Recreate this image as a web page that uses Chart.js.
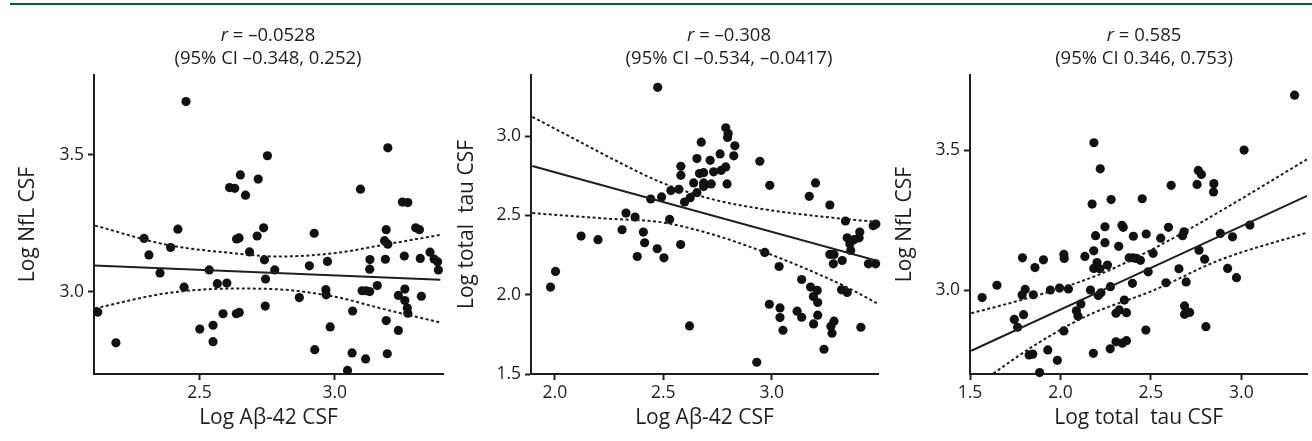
<!DOCTYPE html>
<html>
<head>
<meta charset="utf-8">
<script src="https://cdn.jsdelivr.net/npm/chart.js@4/dist/chart.umd.min.js"></script>
<style>
  html, body { margin: 0; padding: 0; background: #fff; }
  body { width: 1312px; height: 441px; position: relative; overflow: hidden; }
  .rule { position: absolute; left: 10px; right: 0; top: 3px; height: 2px; background: #005f40; }
  .panel { position: absolute; top: 0; height: 441px; }
</style>
</head>
<body>
<div class="rule"></div>
<div class="panel" style="left:0px;width:450px"><canvas id="c1"></canvas></div>
<div class="panel" style="left:439px;width:445px"><canvas id="c2"></canvas></div>
<div class="panel" style="left:877px;width:435px"><canvas id="c3"></canvas></div>
<script>
// Titles (r and 95% CI) for the three panels
const rValues = ['–0.0528', '–0.308', '0.585'];
const ciLabels = ['(95% CI –0.348, 0.252)', '(95% CI –0.534, –0.0417)', '(95% CI 0.346, 0.753)'];

// Axis titles
const xTitles = ['Log Aβ-42 CSF', 'Log Aβ-42 CSF', 'Log total  tau CSF'];
const yTitles = ['Log NfL CSF', 'Log total  tau CSF', 'Log NfL CSF'];

// Tick values
const xTicks = [[2.5, 3.0], [2.0, 2.5, 3.0], [1.5, 2.0, 2.5, 3.0]];
const yTicks = [[3.0, 3.5], [1.5, 2.0, 2.5, 3.0], [3.0, 3.5]];

// Panel 1: Log NfL CSF vs Log Abeta-42 CSF
const nflVsAbeta = [
  [2.124, 2.926], [2.191, 2.814], [2.450, 3.695], [2.295, 3.195], [2.313, 3.135],
  [2.354, 3.069], [2.393, 3.162], [2.420, 3.229], [2.443, 3.017], [2.501, 2.864],
  [2.536, 3.080], [2.550, 2.878], [2.550, 2.818], [2.566, 3.030], [2.601, 3.032],
  [2.587, 2.920], [2.611, 3.381], [2.630, 3.378], [2.651, 3.427], [2.670, 3.353],
  [2.637, 3.193], [2.646, 3.197], [2.636, 2.920], [2.647, 2.925], [2.685, 3.146],
  [2.717, 3.412], [2.713, 3.204], [2.751, 3.497], [2.737, 3.234], [2.740, 3.117],
  [2.744, 3.047], [2.743, 2.948], [2.778, 3.080], [2.869, 2.979], [2.906, 3.095],
  [2.924, 3.214], [2.926, 2.789], [2.967, 3.008], [2.968, 2.989], [2.973, 3.111],
  [2.983, 2.872], [3.047, 2.713], [3.066, 2.930], [3.064, 2.777], [3.095, 3.375],
  [3.114, 2.755], [3.101, 3.004], [3.116, 3.004], [3.129, 3.001], [3.130, 3.118],
  [3.129, 3.083], [3.157, 3.023], [3.196, 3.526], [3.190, 3.227], [3.184, 3.187],
  [3.196, 3.174], [3.187, 3.119], [3.190, 2.895], [3.194, 2.774], [3.235, 2.987],
  [3.235, 2.859], [3.250, 3.328], [3.270, 3.326], [3.259, 3.010], [3.257, 3.131],
  [3.259, 2.968], [3.268, 2.941], [3.270, 2.922], [3.299, 3.234], [3.313, 3.227],
  [3.316, 3.122], [3.320, 2.984], [3.352, 3.145], [3.367, 3.120], [3.380, 3.110],
  [3.383, 3.080]
];
const nflVsAbetaFit = [[2.11, 3.096], [3.39, 3.044]];
const nflVsAbetaUpper = [[2.114, 3.242], [2.379, 3.172], [2.626, 3.141], [2.787, 3.129], [2.996, 3.141], [3.181, 3.172], [3.391, 3.208]];
const nflVsAbetaLower = [[2.114, 2.940], [2.379, 2.995], [2.626, 3.012], [2.750, 3.011], [2.996, 2.983], [3.181, 2.937], [3.391, 2.888]];

// Panel 2: Log total tau CSF vs Log Abeta-42 CSF
const tauVsAbeta = [
  [1.980, 2.048], [2.003, 2.147], [2.121, 2.370], [2.199, 2.347], [2.474, 3.308],
  [2.310, 2.410], [2.328, 2.515], [2.370, 2.490], [2.380, 2.241], [2.408, 2.395],
  [2.414, 2.328], [2.442, 2.604], [2.472, 2.290], [2.492, 2.617], [2.503, 2.233],
  [2.529, 2.475], [2.535, 2.657], [2.572, 2.665], [2.581, 2.810], [2.581, 2.753],
  [2.580, 2.317], [2.598, 2.585], [2.621, 1.803], [2.624, 2.612], [2.640, 2.705],
  [2.655, 2.644], [2.655, 2.859], [2.675, 2.962], [2.667, 2.764], [2.686, 2.770],
  [2.686, 2.705], [2.686, 2.682], [2.716, 2.848], [2.721, 2.699], [2.732, 2.775],
  [2.762, 2.888], [2.767, 2.785], [2.788, 2.806], [2.788, 3.053], [2.799, 3.017],
  [2.796, 2.992], [2.794, 2.699], [2.830, 2.939], [2.825, 2.876], [2.945, 2.842],
  [2.991, 2.690], [2.968, 2.267], [2.989, 1.940], [3.034, 2.178], [3.038, 1.917],
  [3.038, 1.856], [3.052, 1.776], [2.931, 1.574], [3.117, 1.896], [3.138, 2.096],
  [3.138, 1.858], [3.173, 2.621], [3.179, 2.048], [3.192, 1.989], [3.193, 1.816],
  [3.202, 2.705], [3.210, 2.027], [3.212, 1.951], [3.212, 1.871], [3.241, 1.656],
  [3.268, 2.566], [3.268, 2.254], [3.287, 2.254], [3.284, 2.195], [3.273, 1.801],
  [3.287, 1.833], [3.278, 1.757], [3.325, 2.216], [3.322, 2.031], [3.348, 2.014],
  [3.340, 2.465], [3.348, 2.359], [3.360, 2.322], [3.364, 2.279], [3.379, 2.347],
  [3.403, 2.359], [3.406, 2.395], [3.411, 1.795], [3.446, 2.195], [3.468, 2.435],
  [3.479, 2.195], [3.480, 2.446]
];
const tauVsAbetaFit = [[1.896, 2.812], [3.49, 2.212]];
const tauVsAbetaUpper = [[1.896, 3.122], [2.087, 2.985], [2.271, 2.853], [2.486, 2.711], [2.716, 2.606], [2.946, 2.543], [3.176, 2.501], [3.491, 2.458]];
const tauVsAbetaLower = [[1.896, 2.515], [2.241, 2.480], [2.486, 2.458], [2.716, 2.385], [2.946, 2.279], [3.176, 2.153], [3.345, 2.048], [3.491, 1.942]];

// Panel 3: Log NfL CSF vs Log total tau CSF
const nflVsTau = [
  [1.567, 2.973], [1.649, 3.017], [1.745, 2.895], [1.763, 2.867], [1.790, 3.115],
  [1.788, 2.982], [1.805, 3.002], [1.796, 2.912], [1.850, 2.983], [1.859, 3.080],
  [1.906, 3.108], [1.827, 2.768], [1.847, 2.771], [1.885, 2.705], [1.930, 2.786],
  [1.983, 2.749], [1.944, 3.000], [1.995, 3.007], [2.044, 3.004], [2.019, 3.127],
  [2.021, 3.113], [2.019, 2.854], [2.088, 2.926], [2.097, 2.907], [2.113, 2.950],
  [2.135, 3.120], [2.166, 3.000], [2.175, 3.307], [2.185, 3.526], [2.194, 3.194],
  [2.184, 3.140], [2.184, 3.077], [2.202, 3.098], [2.218, 3.076], [2.209, 2.980],
  [2.224, 2.990], [2.182, 2.774], [2.220, 3.433], [2.246, 3.226], [2.246, 3.169],
  [2.260, 3.089], [2.276, 3.012], [2.280, 3.323], [2.275, 2.790], [2.307, 2.815],
  [2.307, 2.917], [2.322, 3.156], [2.340, 3.231], [2.347, 3.224], [2.325, 2.929],
  [2.342, 2.810], [2.365, 2.819], [2.353, 2.964], [2.365, 2.919], [2.380, 3.115],
  [2.402, 3.115], [2.403, 3.192], [2.398, 3.024], [2.420, 3.113], [2.442, 3.106],
  [2.452, 3.326], [2.474, 3.200], [2.485, 3.065], [2.472, 2.857], [2.512, 3.131],
  [2.554, 3.185], [2.583, 3.026], [2.597, 3.224], [2.612, 3.374], [2.655, 3.076],
  [2.675, 3.194], [2.683, 3.208], [2.695, 3.029], [2.686, 2.943], [2.686, 2.913],
  [2.714, 2.920], [2.755, 3.377], [2.762, 3.427], [2.779, 3.413], [2.766, 3.142],
  [2.797, 3.110], [2.804, 2.869], [2.846, 3.350], [2.848, 3.380], [2.884, 3.202],
  [2.951, 3.190], [2.924, 3.077], [2.973, 3.044], [3.015, 3.500], [3.047, 3.232],
  [3.294, 3.696]
];
const nflVsTauFit = [[1.507, 2.783], [3.363, 3.336]];
const nflVsTauUpper = [[1.507, 2.917], [1.846, 2.976], [2.209, 3.054], [2.518, 3.149], [2.880, 3.280], [3.363, 3.467]];
const nflVsTauLower = [[1.629, 2.702], [1.846, 2.798], [2.137, 2.905], [2.518, 3.000], [2.880, 3.107], [3.363, 3.205]];

Chart.defaults.font.family = "'Open Sans', sans-serif";
Chart.defaults.color = '#1e1e1e';

const ink = '#1e1e1e';

// draws "r = ..." (with italic r) and the CI line above each panel
const titlePlugin = {
  id: 'rTitle',
  afterDraw(chart, args, opts) {
    const ctx = chart.ctx;
    ctx.save();
    ctx.fillStyle = ink;
    ctx.textBaseline = 'middle';
    const italic = "italic 18.5px 'Open Sans'";
    const normal = "18.5px 'Open Sans'";
    const rest = ' = ' + opts.r;
    ctx.font = italic;
    const w1 = ctx.measureText('r').width;
    ctx.font = normal;
    const w2 = ctx.measureText(rest).width;
    const x0 = opts.cx - (w1 + w2) / 2;
    ctx.textAlign = 'left';
    ctx.font = italic;
    ctx.fillText('r', x0, 36);
    ctx.font = normal;
    ctx.fillText(rest, x0 + w1, 36);
    ctx.textAlign = 'center';
    ctx.fillText(opts.ci, opts.cx, 59);
    ctx.restore();
  }
};

const toXY = arr => arr.map(p => ({ x: p[0], y: p[1] }));

function makePanel(id, i, pts, fit, upper, lower, xr, yr, yWidth, padRight, cx) {
  const lineSet = (data, dash) => ({
    data: toXY(data),
    showLine: true,
    borderColor: ink,
    borderWidth: 2,
    borderDash: dash ? [3, 2.5] : [],
    pointRadius: 0,
    cubicInterpolationMode: 'monotone',
    fill: false
  });
  new Chart(document.getElementById(id), {
    type: 'scatter',
    data: {
      datasets: [
        lineSet(upper, true),
        lineSet(lower, true),
        lineSet(fit, false),
        { data: toXY(pts), backgroundColor: '#111', borderWidth: 0, pointRadius: 4.6, clip: false }
      ]
    },
    options: {
      responsive: true,
      maintainAspectRatio: false,
      animation: false,
      events: [],
      layout: { padding: { top: 75, left: 0, right: padRight, bottom: 0 } },
      plugins: {
        legend: { display: false },
        tooltip: { enabled: false },
        rTitle: { r: rValues[i], ci: ciLabels[i], cx: cx }
      },
      scales: {
        x: {
          type: 'linear',
          min: xr[0], max: xr[1],
          afterBuildTicks: s => { s.ticks = xTicks[i].map(v => ({ value: v })); },
          afterFit: s => { s.height = 67; },
          ticks: { autoSkip: false, padding: 3, color: ink, font: { size: 17.5 }, callback: v => v.toFixed(1) },
          grid: { drawOnChartArea: false, tickLength: 6, tickWidth: 2, tickColor: ink },
          border: { color: ink, width: 2 },
          title: { display: true, text: xTitles[i], color: ink, font: { size: 21 }, padding: { top: 0, bottom: 10 } }
        },
        y: {
          type: 'linear',
          min: yr[0], max: yr[1],
          afterBuildTicks: s => { s.ticks = yTicks[i].map(v => ({ value: v })); },
          afterFit: s => { s.width = yWidth; },
          ticks: { autoSkip: false, padding: 4, color: ink, font: { size: 17.5 }, callback: v => v.toFixed(1) },
          grid: { drawOnChartArea: false, tickLength: 6, tickWidth: 2, tickColor: ink },
          border: { color: ink, width: 2 },
          title: { display: true, text: yTitles[i], color: ink, font: { size: 21 }, padding: { top: 15, bottom: 0 } }
        }
      }
    },
    plugins: [titlePlugin]
  });
}

makePanel('c1', 0, nflVsAbeta, nflVsAbetaFit, nflVsAbetaUpper, nflVsAbetaLower, [2.11, 3.40], [2.70, 3.792], 94, 7, 268);
makePanel('c2', 1, tauVsAbeta, tauVsAbetaFit, tauVsAbetaUpper, tauVsAbetaLower, [1.89, 3.49], [1.5, 3.386], 92, 6, 290);
makePanel('c3', 2, nflVsTau, nflVsTauFit, nflVsTauUpper, nflVsTauLower, [1.5, 3.365], [2.70, 3.768], 93, 0, 267);
</script>
</body>
</html>
